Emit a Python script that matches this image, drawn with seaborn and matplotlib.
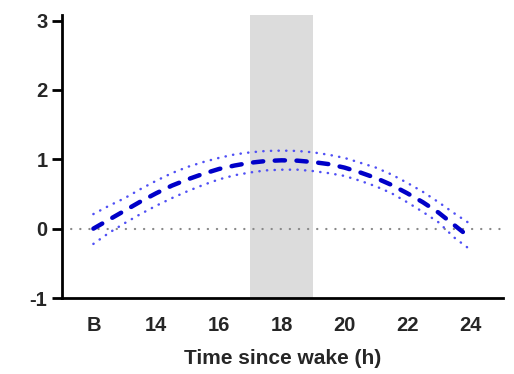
import matplotlib
matplotlib.use("Agg")
import matplotlib.pyplot as plt
import seaborn as sns
import pandas as pd

hours = [12.0, 12.5, 13.0, 13.5, 14.0, 14.5, 15.0, 15.5, 16.0, 16.5, 17.0, 17.5, 18.0,
         18.5, 19.0, 19.5, 20.0, 20.5, 21.0, 21.5, 22.0, 22.5, 23.0, 23.5, 24.0]
mean = [0.00, 0.13, 0.26, 0.39, 0.51, 0.62, 0.71, 0.79, 0.86, 0.91, 0.95, 0.975, 0.985,
        0.98, 0.96, 0.93, 0.88, 0.81, 0.73, 0.63, 0.51, 0.38, 0.23, 0.05, -0.13]
upper = [0.21, 0.33, 0.44, 0.57, 0.69, 0.80, 0.89, 0.96, 1.02, 1.07, 1.10, 1.12, 1.125,
         1.12, 1.10, 1.065, 1.02, 0.95, 0.88, 0.78, 0.66, 0.53, 0.38, 0.22, 0.07]
lower = [-0.22, -0.06, 0.08, 0.21, 0.33, 0.44, 0.54, 0.63, 0.71, 0.77, 0.81, 0.84, 0.85,
         0.85, 0.83, 0.80, 0.76, 0.69, 0.61, 0.51, 0.38, 0.24, 0.09, -0.13, -0.30]

band_start, band_end = 17, 19
tick_positions = [12, 14, 16, 18, 20, 22, 24]
tick_labels = ["B", "14", "16", "18", "20", "22", "24"]
marked_ticks = [14, 18, 22]
y_ticks = [-1, 0, 1, 2, 3]

sns.set_style("ticks")
plt.rcParams['font.family'] = ['Liberation Sans', 'DejaVu Sans']

df = pd.DataFrame({"hour": hours, "mean": mean, "upper": upper, "lower": lower})

fig = plt.figure(figsize=(5.14, 3.74), dpi=100)
ax = fig.add_axes([62/514, 76/374, (503-62)/514, (298-15)/374])

ax.axvspan(band_start, band_end, color="#DCDCDC", lw=0, zorder=0)
ax.axhline(0, color="#888888", lw=1.6, dashes=(0.1, 4.0), dash_capstyle="round", zorder=1)

for col in ["upper", "lower"]:
    sns.lineplot(data=df, x="hour", y=col, ax=ax, color="#5050F5", lw=1.8,
                 dashes=False, zorder=2)
for line in ax.lines[1:]:
    line.set_dashes((0.1, 2.95))
    line.set_dash_capstyle("round")

sns.lineplot(data=df, x="hour", y="mean", ax=ax, color="#0000C8", lw=3.2, zorder=3)
ax.lines[-1].set_dashes((2.3, 2.6))
ax.lines[-1].set_dash_capstyle("round")

ax.set_xlim(11, 25.05)
ax.set_ylim(-1, 3.08)

ax.set_xticks(tick_positions)
ax.set_xticklabels(tick_labels, fontsize=14.5, fontweight="bold")
ax.tick_params(axis="x", which="major", length=0, pad=13)
ax.set_xticks(marked_ticks, minor=True)
ax.tick_params(axis="x", which="minor", length=7.5, width=2, color="black")

ax.set_yticks(y_ticks)
ax.set_yticklabels([str(v) for v in y_ticks], fontsize=14.5, fontweight="bold")
ax.tick_params(axis="y", length=7.5, width=2, color="black", pad=3)

for s in ["left", "bottom"]:
    ax.spines[s].set_linewidth(2)
    ax.spines[s].set_color("black")
sns.despine(ax=ax)

ax.set_xlabel("Time since wake (h)", fontsize=15, fontweight="bold", labelpad=10)
ax.set_ylabel("")

fig.savefig("out.png", dpi=100)
